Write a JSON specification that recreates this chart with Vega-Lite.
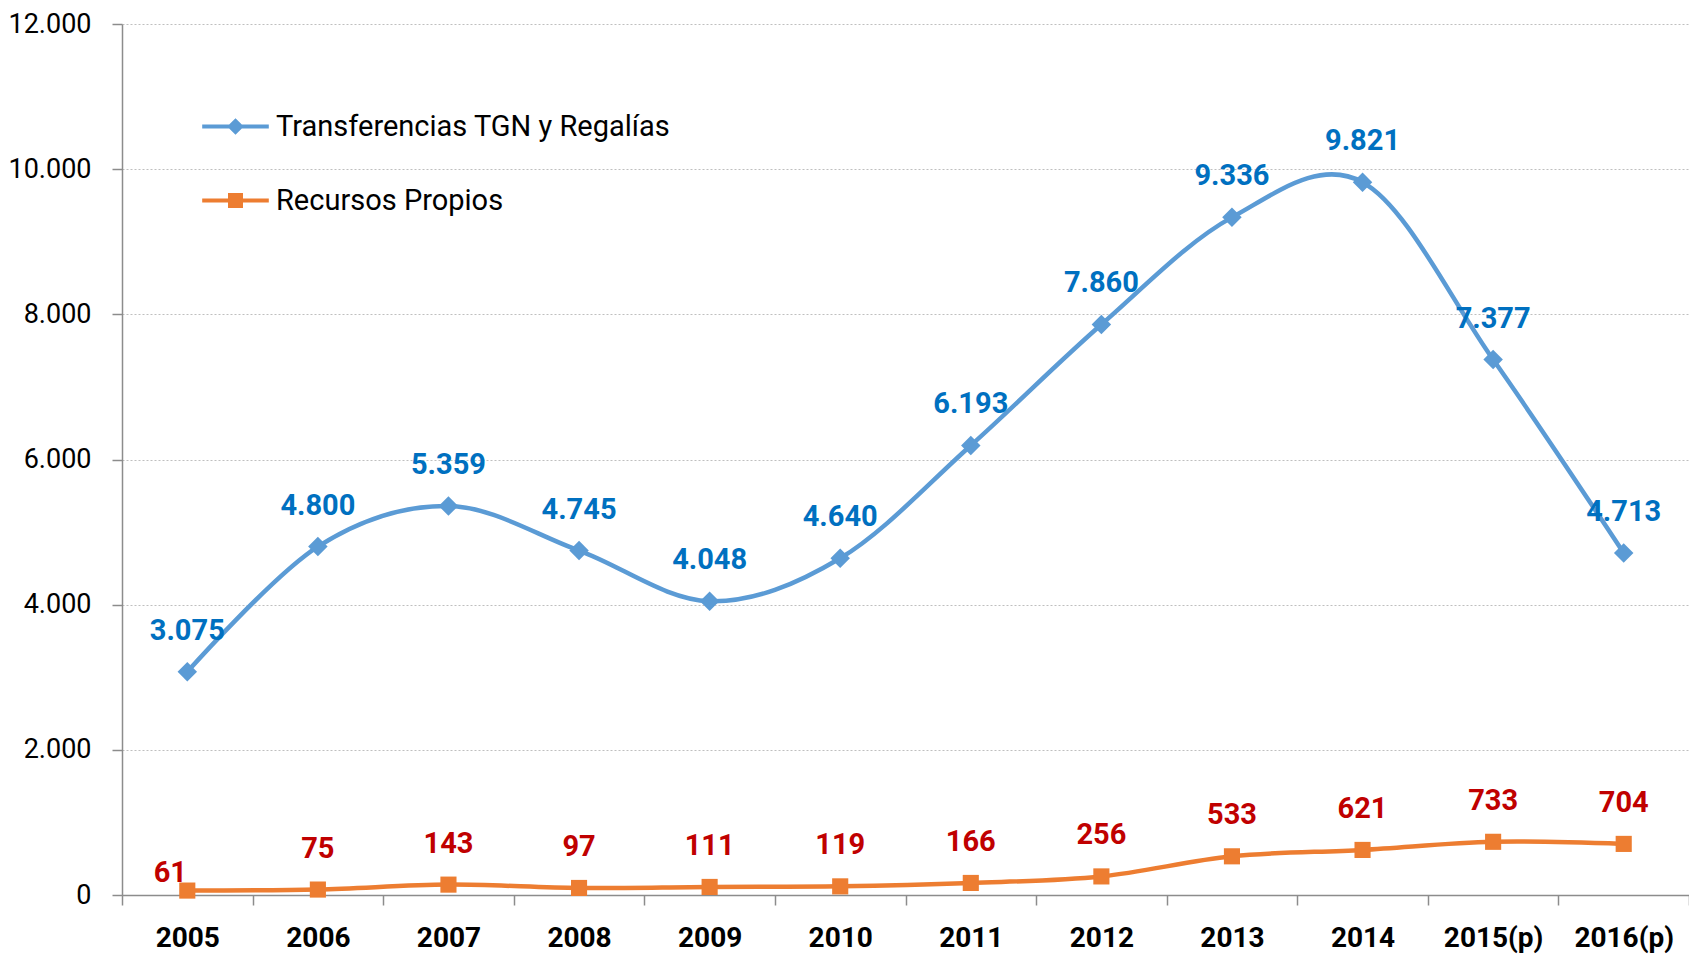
{
  "$schema": "https://vega.github.io/schema/vega-lite/v6.json",
  "width": 1567,
  "height": 871,
  "autosize": {"type": "none"},
  "padding": {"left": 122, "top": 24, "right": 0, "bottom": 62},
  "background": "white",
  "config": {
    "locale": {"number": {"decimal": ",", "thousands": ".", "grouping": [3], "currency": ["$", ""]}},
    "view": {"stroke": null},
    "font": "Roboto"
  },
  "data": {
    "values": [
      {"year": "2005", "series": "Transferencias TGN y Regalías", "value": 3075},
      {"year": "2006", "series": "Transferencias TGN y Regalías", "value": 4800},
      {"year": "2007", "series": "Transferencias TGN y Regalías", "value": 5359},
      {"year": "2008", "series": "Transferencias TGN y Regalías", "value": 4745},
      {"year": "2009", "series": "Transferencias TGN y Regalías", "value": 4048},
      {"year": "2010", "series": "Transferencias TGN y Regalías", "value": 4640},
      {"year": "2011", "series": "Transferencias TGN y Regalías", "value": 6193},
      {"year": "2012", "series": "Transferencias TGN y Regalías", "value": 7860},
      {"year": "2013", "series": "Transferencias TGN y Regalías", "value": 9336},
      {"year": "2014", "series": "Transferencias TGN y Regalías", "value": 9821},
      {"year": "2015(p)", "series": "Transferencias TGN y Regalías", "value": 7377},
      {"year": "2016(p)", "series": "Transferencias TGN y Regalías", "value": 4713},
      {"year": "2005", "series": "Recursos Propios", "value": 61},
      {"year": "2006", "series": "Recursos Propios", "value": 75},
      {"year": "2007", "series": "Recursos Propios", "value": 143},
      {"year": "2008", "series": "Recursos Propios", "value": 97},
      {"year": "2009", "series": "Recursos Propios", "value": 111},
      {"year": "2010", "series": "Recursos Propios", "value": 119},
      {"year": "2011", "series": "Recursos Propios", "value": 166},
      {"year": "2012", "series": "Recursos Propios", "value": 256},
      {"year": "2013", "series": "Recursos Propios", "value": 533},
      {"year": "2014", "series": "Recursos Propios", "value": 621},
      {"year": "2015(p)", "series": "Recursos Propios", "value": 733},
      {"year": "2016(p)", "series": "Recursos Propios", "value": 704}
    ]
  },
  "encoding": {
    "x": {
      "field": "year", "type": "ordinal", "sort": null, "bandPosition": 0.5,
      "scale": {"type": "band", "paddingInner": 0, "paddingOuter": 0},
      "axis": {
        "title": null, "labelAngle": 0, "tickBand": "extent", "grid": false,
        "domainColor": "#8C8C8C", "domainWidth": 1.5, "tickColor": "#8C8C8C", "tickWidth": 1.5, "tickSize": 10,
        "labelFont": "Roboto", "labelFontSize": 28, "labelFontWeight": "bold", "labelColor": "#000000", "labelPadding": 19
      }
    },
    "y": {
      "field": "value", "type": "quantitative",
      "scale": {"domain": [0, 12000], "nice": false},
      "axis": {
        "title": null, "values": [0, 2000, 4000, 6000, 8000, 10000, 12000], "format": ",.0f",
        "grid": true, "gridColor": "#BFBFBF", "gridDash": [2, 2], "gridWidth": 1,
        "domainColor": "#8C8C8C", "domainWidth": 1.5, "tickColor": "#8C8C8C", "tickWidth": 1.5, "tickSize": 10,
        "labelFont": "Roboto", "labelFontSize": 27, "labelColor": "#000000", "labelPadding": 21
      }
    }
  },
  "layer": [
    {
      "transform": [{"filter": "datum.series === 'Transferencias TGN y Regalías'"}],
      "mark": {"type": "line", "interpolate": "cardinal", "strokeWidth": 4.5, "color": "#5B9BD5"},
      "encoding": {}
    },
    {
      "transform": [{"filter": "datum.series === 'Recursos Propios'"}],
      "mark": {"type": "line", "interpolate": "cardinal", "strokeWidth": 4.5, "color": "#ED7D31"},
      "encoding": {}
    },
    {
      "transform": [{"filter": "datum.series === 'Transferencias TGN y Regalías'"}],
      "mark": {"type": "point", "shape": "diamond", "filled": true, "size": 380, "color": "#5B9BD5", "opacity": 1}
    },
    {
      "transform": [{"filter": "datum.series === 'Recursos Propios'"}],
      "mark": {"type": "point", "shape": "square", "filled": true, "size": 260, "color": "#ED7D31", "opacity": 1}
    },
    {
      "transform": [{"filter": "datum.series === 'Transferencias TGN y Regalías'"}],
      "mark": {"type": "text", "font": "Roboto", "fontSize": 29, "fontWeight": "bold", "color": "#0070C0", "baseline": "alphabetic", "align": "center", "dy": -32},
      "encoding": {"text": {"field": "value", "type": "quantitative", "format": ",.0f"}}
    },
    {
      "transform": [{"filter": "datum.series === 'Recursos Propios' && datum.year !== '2005'"}],
      "mark": {"type": "text", "font": "Roboto", "fontSize": 29, "fontWeight": "bold", "color": "#C00000", "baseline": "alphabetic", "align": "center", "dy": -32},
      "encoding": {"text": {"field": "value", "type": "quantitative", "format": ",.0f"}}
    },
    {
      "transform": [{"filter": "datum.series === 'Recursos Propios' && datum.year === '2005'"}],
      "mark": {"type": "text", "font": "Roboto", "fontSize": 29, "fontWeight": "bold", "color": "#C00000", "baseline": "alphabetic", "align": "center", "dx": -17, "dy": -9},
      "encoding": {"text": {"field": "value", "type": "quantitative", "format": ",.0f"}}
    },
    {
      "mark": {"type": "point", "filled": true, "opacity": 0},
      "encoding": {
        "color": {
          "field": "series", "type": "nominal",
          "scale": {"domain": ["Transferencias TGN y Regalías", "Recursos Propios"], "range": ["#5B9BD5", "#ED7D31"]},
          "legend": {
            "title": null, "orient": "none", "legendX": 80, "legendY": 69, "padding": 0,
            "symbolSize": 4435, "symbolStrokeWidth": 0, "symbolOpacity": 1,
            "labelFont": "Roboto", "labelFontSize": 29, "labelColor": "#000000", "labelOffset": 7, "labelLimit": 1000, "rowPadding": 25
          }
        },
        "shape": {
          "field": "series", "type": "nominal",
          "scale": {
            "domain": ["Transferencias TGN y Regalías", "Recursos Propios"],
            "range": [
              "M-1,-0.06H-0.19L0,-0.25L0.19,-0.06H1V0.06H0.19L0,0.25L-0.19,0.06H-1Z",
              "M-1,-0.06H-0.225V-0.225H0.225V-0.06H1V0.06H0.225V0.225H-0.225V0.06H-1Z"
            ]
          },
          "legend": {
            "title": null, "orient": "none", "legendX": 80, "legendY": 69, "padding": 0,
            "symbolSize": 4435, "symbolStrokeWidth": 0, "symbolOpacity": 1,
            "labelFont": "Roboto", "labelFontSize": 29, "labelColor": "#000000", "labelOffset": 7, "labelLimit": 1000, "rowPadding": 25
          }
        }
      }
    }
  ]
}
